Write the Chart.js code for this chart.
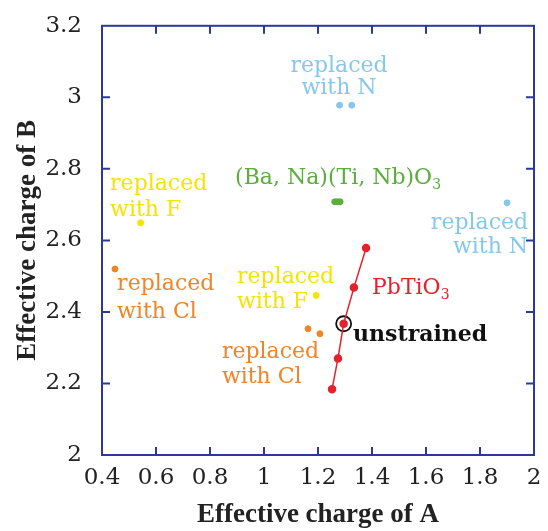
<!DOCTYPE html>
<html>
<head>
<meta charset="utf-8">
<script src="https://cdn.jsdelivr.net/npm/chart.js@4"></script>
<style>
  html, body { margin: 0; padding: 0; background: #fff; }
  #wrap { width: 548px; height: 531px; }
</style>
</head>
<body>
<div id="wrap"><canvas id="chart"></canvas></div>
<script>
// values
const cyanX = [1.28, 1.325, 1.90];
const cyanY = [2.978, 2.978, 2.705];
const greenX = [1.262, 1.272, 1.282];
const greenY = [2.708, 2.708, 2.708];
const yellowX = [0.543, 1.193];
const yellowY = [2.649, 2.446];
const orangeX = [0.448, 1.163, 1.207];
const orangeY = [2.52, 2.353, 2.339];
const pbX = [1.252, 1.274, 1.295, 1.333, 1.378];
const pbY = [2.184, 2.270, 2.367, 2.468, 2.579];
const unstrainedX = [1.295];
const unstrainedY = [2.367];

const xTickLabels = ['0.4', '0.6', '0.8', '1', '1.2', '1.4', '1.6', '1.8', '2'];
const yTickLabels = ['2', '2.2', '2.4', '2.6', '2.8', '3', '3.2'];

// text labels, anchored in data units
const labels = [
  { lines: ['replaced', 'with N'], x: 1.278, y: [3.072, 3.008], align: 'center', color: '#86c8ea' },
  { lines: ['(Ba, Na)(Ti, Nb)O'], sub: '3', x: 0.893, y: [2.758], align: 'left', color: '#5aaf3c' },
  { lines: ['replaced', 'with F'], x: 0.430, y: [2.741, 2.669], align: 'left', color: '#f5e400' },
  { lines: ['replaced', 'with N'], x: 1.978, y: [2.632, 2.565], align: 'right', color: '#86c8ea' },
  { lines: ['replaced', 'with Cl'], x: 0.456, y: [2.460, 2.384], align: 'left', color: '#ef8428' },
  { lines: ['replaced', 'with F'], x: 0.90, y: [2.482, 2.412], align: 'left', color: '#f5e400' },
  { lines: ['PbTiO'], sub: '3', x: 1.40, y: [2.451], align: 'left', color: '#e4222c' },
  { lines: ['unstrained'], x: 1.330, y: [2.320], align: 'left', color: '#111', bold: true },
  { lines: ['replaced', 'with Cl'], x: 0.844, y: [2.270, 2.201], align: 'left', color: '#ef8428' }
];

const axisColor = '#2b3a98';
const labelFont = '"DejaVu Serif", serif';
const titleFont = '"Liberation Serif", serif';

function pts(xs, ys) {
  return xs.map((x, i) => ({ x: x, y: ys[i] }));
}

const frame = {
  id: 'frame',
  afterDatasetsDraw(chart) {
    const { ctx, chartArea: a, scales: { x, y } } = chart;
    ctx.save();
    ctx.strokeStyle = axisColor;
    ctx.lineWidth = 2;
    ctx.strokeRect(a.left, a.top, a.right - a.left, a.bottom - a.top);
    const tl = 8;
    ctx.beginPath();
    x.ticks.forEach(t => {
      const px = x.getPixelForValue(t.value);
      if (Math.abs(px - a.left) < 2 || Math.abs(px - a.right) < 2) return;
      ctx.moveTo(px, a.bottom); ctx.lineTo(px, a.bottom - tl);
      ctx.moveTo(px, a.top); ctx.lineTo(px, a.top + tl);
    });
    y.ticks.forEach(t => {
      const py = y.getPixelForValue(t.value);
      if (Math.abs(py - a.top) < 2 || Math.abs(py - a.bottom) < 2) return;
      ctx.moveTo(a.left, py); ctx.lineTo(a.left + tl, py);
      ctx.moveTo(a.right, py); ctx.lineTo(a.right - tl, py);
    });
    ctx.stroke();

    ctx.textBaseline = 'alphabetic';
    labels.forEach(l => {
      ctx.fillStyle = l.color;
      const font = (l.bold ? 'bold ' : '') + '22px ' + labelFont;
      const px = x.getPixelForValue(l.x);
      l.lines.forEach((line, i) => {
        const py = y.getPixelForValue(l.y[i]);
        ctx.font = font;
        let w = ctx.measureText(line).width;
        let sw = 0;
        if (l.sub) {
          ctx.font = '14px ' + labelFont;
          sw = ctx.measureText(l.sub).width;
          ctx.font = font;
        }
        let sx = px;
        if (l.align === 'center') sx = px - (w + sw) / 2;
        if (l.align === 'right') sx = px - (w + sw);
        ctx.textAlign = 'left';
        ctx.fillText(line, sx, py);
        if (l.sub) {
          ctx.font = '14px ' + labelFont;
          ctx.fillText(l.sub, sx + w, py + 5);
        }
      });
    });
    ctx.restore();
  }
};

new Chart(document.getElementById('chart'), {
  type: 'scatter',
  data: {
    datasets: [
      { label: 'N', data: pts(cyanX, cyanY), backgroundColor: '#86c8ea', borderColor: '#86c8ea', pointRadius: 3 },
      { label: 'BNTN', data: pts(greenX, greenY), backgroundColor: '#5aaf3c', borderColor: '#5aaf3c', pointRadius: 3 },
      { label: 'F', data: pts(yellowX, yellowY), backgroundColor: '#f5e400', borderColor: '#f5e400', pointRadius: 3 },
      { label: 'Cl', data: pts(orangeX, orangeY), backgroundColor: '#ef8428', borderColor: '#ef8428', pointRadius: 3 },
      { label: 'PbTiO3', data: pts(pbX, pbY), showLine: true, borderWidth: 1.5,
        backgroundColor: '#e4222c', borderColor: '#e4222c', pointRadius: 3.5 },
      { label: 'unstrained', data: pts(unstrainedX, unstrainedY), pointRadius: 7.5, borderWidth: 1.8,
        backgroundColor: 'rgba(0,0,0,0)', borderColor: '#111' }
    ]
  },
  options: {
    responsive: true,
    maintainAspectRatio: false,
    animation: false,
    layout: { padding: { top: 24, right: 14, left: 0, bottom: 0 } },
    plugins: { legend: { display: false }, tooltip: { enabled: false } },
    scales: {
      x: {
        min: 0.4, max: 2,
        grid: { display: false },
        border: { display: false },
        afterFit(s) { s.height = 76; },
        ticks: {
          stepSize: 0.2,
          padding: 1,
          color: '#222',
          font: { family: labelFont, size: 23 },
          callback: v => xTickLabels.find(l => Math.abs(+l - v) < 1e-6) ?? ''
        },
        title: {
          display: true, text: 'Effective charge of A', color: '#222',
          font: { family: titleFont, size: 27, weight: 'bold' },
          padding: { top: 0, bottom: 0 }
        }
      },
      y: {
        min: 2, max: 3.2,
        grid: { display: false },
        border: { display: false },
        afterFit(s) { s.width = 102; },
        ticks: {
          stepSize: 0.2,
          padding: 12,
          color: '#222',
          font: { family: labelFont, size: 23 },
          callback: v => yTickLabels.find(l => Math.abs(+l - v) < 1e-6) ?? ''
        },
        title: {
          display: true, text: 'Effective charge of B', color: '#222',
          font: { family: titleFont, size: 27, weight: 'bold' },
          padding: { top: 12, bottom: 0 }
        }
      }
    }
  },
  plugins: [frame]
});
</script>
</body>
</html>
